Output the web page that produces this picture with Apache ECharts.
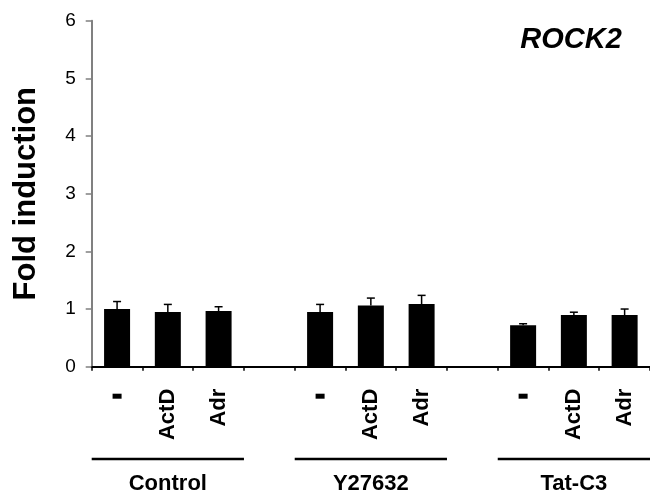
<!DOCTYPE html>
<html><head><meta charset="utf-8">
<script src="https://cdn.jsdelivr.net/npm/echarts@6/dist/echarts.min.js"></script>
<style>html,body{margin:0;padding:0;background:#fff}#c{width:650px;height:496px}</style>
</head><body><div id="c"></div>
<script>
var categories = ['-', 'ActD', 'Adr', '', '-', 'ActD', 'Adr', '', '-', 'ActD', 'Adr'];
var values = [1.00, 0.95, 0.965, null, 0.95, 1.06, 1.087, null, 0.72, 0.895, 0.895];
var errors = [0.13, 0.13, 0.075, null, 0.13, 0.13, 0.15, null, 0.025, 0.05, 0.105];
var groups = ['Control', 'Y27632', 'Tat-C3'];
var groupSpans = [[0, 2], [4, 6], [8, 10]];
var yTicks = [0, 1, 2, 3, 4, 5, 6];

var FONT = 'Liberation Sans, Arial, sans-serif';
var chart = echarts.init(document.getElementById('c'), null, {renderer: 'canvas'});
var errData = values.map(function (v, i) { return v == null ? [i, null, null] : [i, v, v + errors[i]]; });

var option = {
  animation: false,
  backgroundColor: '#fff',
  grid: {left: 91.7, right: 0, top: 20.7, bottom: 129.3, containLabel: false},
  xAxis: {
    type: 'category', data: categories,
    axisLine: {lineStyle: {color: '#000', width: 2}},
    axisTick: {show: true, length: 4, lineStyle: {color: '#000', width: 1.5}},
    axisLabel: {
      rotate: 90, interval: 0, margin: 22, fontSize: 22, fontWeight: 'bold', color: '#000', fontFamily: FONT,
      formatter: function (v) { return v === '-' ? '{d|}{s|}' : v; },
      rich: {
        d: {width: 5, height: 9, backgroundColor: '#000'},
        s: {width: 5, height: 9}
      }
    }
  },
  yAxis: {
    type: 'value', min: yTicks[0], max: yTicks[yTicks.length - 1], interval: 1,
    axisLine: {show: true, lineStyle: {color: '#808080', width: 2}},
    axisTick: {show: true, length: 6, lineStyle: {color: '#808080', width: 1.5}},
    splitLine: {show: false},
    axisLabel: {margin: 16, fontSize: 19, color: '#000', fontFamily: FONT}
  },
  series: [
    {type: 'bar', data: values, barWidth: 26, itemStyle: {color: '#000'}, z: 2},
    {
      type: 'custom', data: errData, z: 3,
      renderItem: function (params, api) {
        var v = api.value(1);
        if (v == null || isNaN(v)) return;
        var p0 = api.coord([api.value(0), v]);
        var p1 = api.coord([api.value(0), api.value(2)]);
        var style = {stroke: '#000', lineWidth: 1.5};
        return {type: 'group', children: [
          {type: 'line', shape: {x1: p0[0], y1: p0[1], x2: p1[0], y2: p1[1]}, style: style},
          {type: 'line', shape: {x1: p1[0] - 4, y1: p1[1], x2: p1[0] + 4, y2: p1[1]}, style: style}
        ]};
      }
    }
  ]
};
chart.setOption(option);

var half = (chart.convertToPixel({xAxisIndex: 0}, 1) - chart.convertToPixel({xAxisIndex: 0}, 0)) / 2;
var yMid = (chart.convertToPixel({yAxisIndex: 0}, 0) + chart.convertToPixel({yAxisIndex: 0}, 6)) / 2;
var elements = [];
groupSpans.forEach(function (s, i) {
  var x1 = chart.convertToPixel({xAxisIndex: 0}, s[0]) - half;
  var x2 = chart.convertToPixel({xAxisIndex: 0}, s[1]) + half;
  elements.push({type: 'line', shape: {x1: x1, y1: 459, x2: x2, y2: 459}, style: {stroke: '#000', lineWidth: 2.5}});
  elements.push({type: 'text', x: (x1 + x2) / 2, y: 484, style: {text: groups[i], fill: '#000', font: 'bold 22px ' + FONT, textAlign: 'center', textVerticalAlign: 'middle'}});
});
elements.push({type: 'text', x: 26, y: yMid, rotation: Math.PI / 2, style: {text: 'Fold induction', fill: '#000', font: 'bold 31px ' + FONT, textAlign: 'center', textVerticalAlign: 'middle'}});
elements.push({type: 'text', x: 571, y: 40, style: {text: 'ROCK2', fill: '#000', font: 'italic bold 29px ' + FONT, textAlign: 'center', textVerticalAlign: 'middle'}});
chart.setOption({graphic: {elements: elements}});
</script>
</body></html>
